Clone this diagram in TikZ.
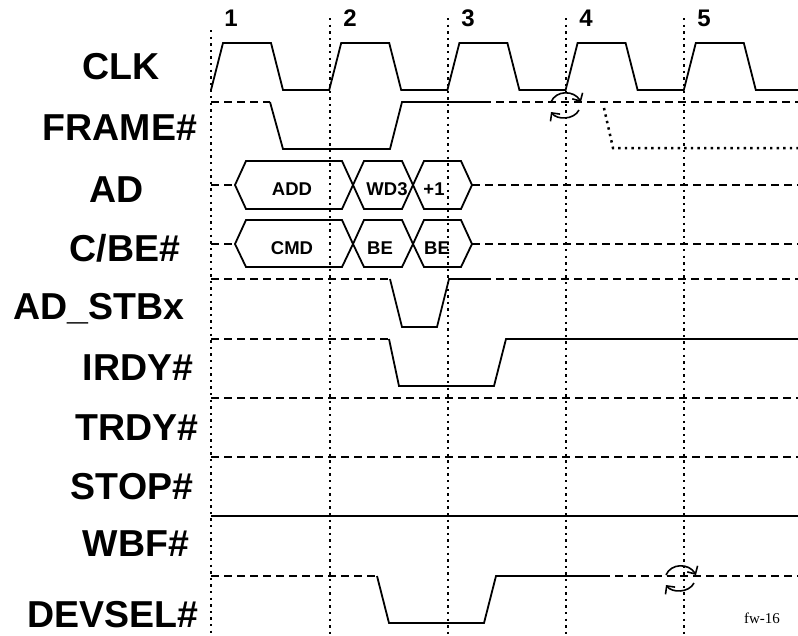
\documentclass[tikz,border=0pt]{standalone}
\usepackage{fontspec}
\setmainfont{Liberation Sans}
\newfontfamily\notefont{Liberation Serif}
\usetikzlibrary{arrows.meta}

\tikzset{
  sig/.style={line width=1.8pt, line join=miter},
  idle/.style={line width=2pt, dash pattern=on 8pt off 5pt},
  tick/.style={line width=2.5pt, dash pattern=on 2.4pt off 4.2pt},
  lbl/.style={font=\fontsize{37.5}{37.5}\selectfont\bfseries, inner sep=0pt},
  busl/.style={font=\fontsize{18.5}{18.5}\selectfont\bfseries, inner sep=0pt},
  num/.style={font=\fontsize{24}{24}\selectfont\bfseries, inner sep=0pt},
  turnaround/.pic={
    \draw[line width=1.6pt, -{Straight Barb[length=6pt,width=12pt]}]
      (-15,-3) .. controls (-10,-15) and (8,-15) .. (15,-3);
    \draw[line width=1.6pt, -{Straight Barb[length=6pt,width=12pt]}]
      (13,5) .. controls (8,15) and (-9,15) .. (-15,7);
  }
}

\begin{document}
\begin{tikzpicture}[x=1pt, y=-1pt]
  \useasboundingbox (0,0) rectangle (798,635);

  \foreach \n/\x/\ytop in {1/211/30, 2/330/18, 3/448/18, 4/566/18, 5/684/18}{
    \draw[tick] (\x,\ytop) -- (\x,635);
    \node[num] (n\n) at (\x+20,18) {\n};
  }

  \foreach \name/\x/\y/\txt in {
    clk/121/67/CLK,        frame/120/128/FRAME\#,
    ad/117/190/AD,         cbe/125/248/{C/BE\#},
    stb/99/309/AD\_STBx,   irdy/138/368/IRDY\#,
    trdy/137/428/TRDY\#,   stop/132/487/STOP\#,
    wbf/136/544/WBF\#,     devsel/113/615/DEVSEL\#
  }{
    \node[lbl] (\name) at (\x,\y) {\txt};
  }

  \draw[sig] (211,90) \foreach \k in {0,...,4}{
    -- ({211+118.2*\k},90) -- ({223+118.2*\k},43)
    -- ({271+118.2*\k},43) -- ({283+118.2*\k},90)
  } -- (798,90);

  \draw[idle] (211,102) -- (270,102);
  \draw[sig] (270,102) -- (283,149) -- (390,149) -- (402,102) -- (483,102);
  \draw[idle] (483,102) -- (798,102);
  \draw[tick] (604,108) -- (613,148) -- (798,148);
  \pic at (566,105) {turnaround};

  \foreach \row/\yc in {ad/185, cbe/244}{
    \draw[idle] (211,\yc) -- (235,\yc);
    \draw[idle] (472,\yc) -- (798,\yc);
  }
  \foreach \i/\a/\b/\tx/\t in {1/235/353/292/ADD, 2/353/413/387/WD3, 3/413/472/434/+1}{
    \draw[sig] (\a,185) -- (\a+11,161) -- (\b-11,161) -- (\b,185)
      -- (\b-11,209) -- (\a+11,209) -- cycle;
    \node[busl] (ad\i) at (\tx,189) {\t};
  }
  \foreach \i/\a/\b/\tx/\t in {1/235/353/292/CMD, 2/353/413/380/BE, 3/413/472/437/BE}{
    \draw[sig] (\a,244) -- (\a+11,220) -- (\b-11,220) -- (\b,244)
      -- (\b-11,267) -- (\a+11,267) -- cycle;
    \node[busl] (cbe\i) at (\tx,248) {\t};
  }

  \draw[idle] (211,279) -- (390,279);
  \draw[sig] (390,279) -- (402,327) -- (437,327) -- (449,279) -- (483,279);
  \draw[idle] (483,279) -- (798,279);

  \draw[idle] (211,339) -- (389,339);
  \draw[sig] (389,339) -- (399,386) -- (494,386) -- (506,339) -- (798,339);

  \draw[idle] (211,398) -- (798,398);
  \draw[idle] (211,457) -- (798,457);
  \draw[sig] (211,516) -- (798,516);

  \draw[idle] (211,576) -- (377,576);
  \draw[sig] (377,576) -- (389,623) -- (484,623) -- (496,576) -- (602,576);
  \draw[idle] (602,576) -- (798,576);
  \pic at (681,578) {turnaround};

  \node[font=\notefont\fontsize{15}{15}\selectfont, inner sep=0pt] (fig) at (762,618) {fw-16};
\end{tikzpicture}
\end{document}
